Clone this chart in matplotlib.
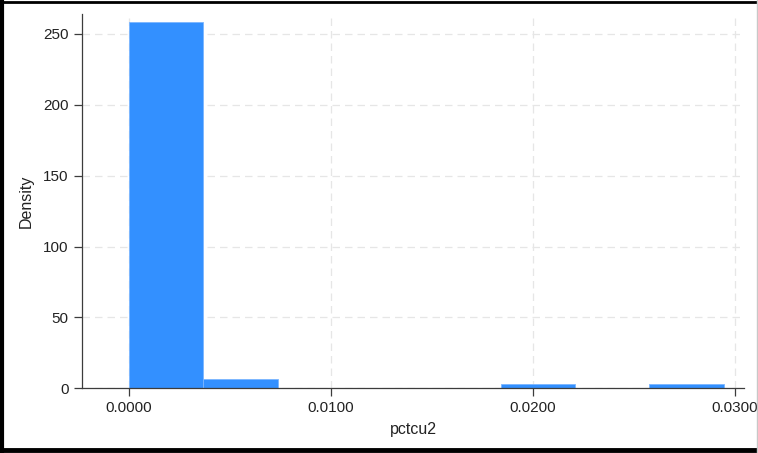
import matplotlib
matplotlib.use("Agg")
import matplotlib.pyplot as plt
from matplotlib.lines import Line2D

# Histogram of pctcu2 (density scale), 8 equal-width bins
BIN_WIDTH = 0.00368
bin_left = [0.0, 0.00368, 0.00736, 0.01104, 0.01472, 0.01840, 0.02208, 0.02576]
density = [258.3, 6.6, 0.0, 0.0, 0.0, 3.3, 0.0, 3.3]

x_ticks = [0.0, 0.01, 0.02, 0.03]
y_ticks = [0, 50, 100, 150, 200, 250]

BAR_BLUE = "#3390ff"
AXIS_GREY = "#3c3c3c"

plt.rcParams["font.family"] = ["Liberation Sans", "DejaVu Sans"]

fig = plt.figure(figsize=(7.58, 4.53), dpi=100)
ax = fig.add_axes([82 / 758, 1 - 388.3 / 453, (744 - 82) / 758, (388.3 - 14) / 453])

ax.bar(bin_left, density, width=BIN_WIDTH, align="edge",
       color=BAR_BLUE, edgecolor="#7bb6ff", linewidth=0.6, zorder=2)

ax.set_xlim(-0.00233, 0.03045)
ax.set_ylim(0, 264.1)
ax.set_xticks(x_ticks)
ax.set_xticklabels([f"{v:.4f}" for v in x_ticks])
ax.set_yticks(y_ticks)

ax.grid(True, color="#e6e6e6", linestyle=(0, (6, 4)), linewidth=0.9, zorder=0)
ax.set_axisbelow(True)
ax.spines[["top", "right"]].set_visible(False)
for side in ("left", "bottom"):
    ax.spines[side].set_color(AXIS_GREY)
    ax.spines[side].set_linewidth(0.9)
ax.tick_params(colors=AXIS_GREY, labelcolor="#222222", labelsize=11,
               length=6, width=0.9)

ax.set_xlabel("pctcu2", fontsize=11.5, color="#222222", labelpad=5)
ax.set_ylabel("Density", fontsize=11.5, color="#222222", labelpad=7)

# outer frame around the graph region
fig.add_artist(Line2D([2 / 758, 2 / 758], [0, 1], color="black", linewidth=3))
fig.add_artist(Line2D([0, 1], [1 - 2 / 453, 1 - 2 / 453], color="black", linewidth=2))
fig.add_artist(Line2D([0, 1], [1 - 450 / 453, 1 - 450 / 453], color="black", linewidth=3.5))
fig.add_artist(Line2D([757 / 758, 757 / 758], [0, 1], color="#c8c8c8", linewidth=1))

fig.savefig("out.png", dpi=100)
